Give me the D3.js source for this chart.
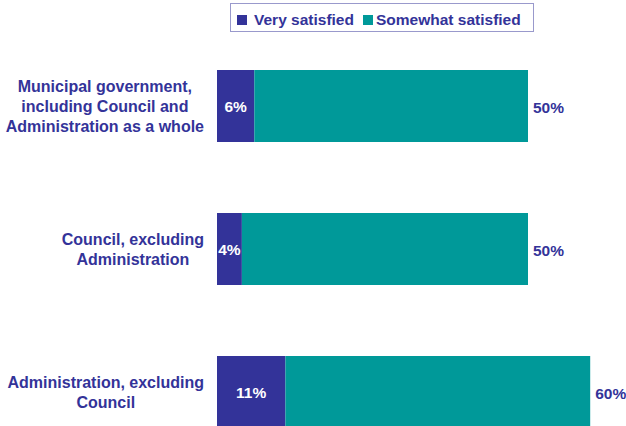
<!DOCTYPE html>
<html>
<head>
<meta charset="utf-8">
<script src="https://cdn.jsdelivr.net/npm/d3@7"></script>
<style>
  html, body { margin: 0; padding: 0; background: #fff; }
  svg { display: block; font-family: "Liberation Sans", Arial, sans-serif; font-weight: bold; }
</style>
</head>
<body>
<svg id="chart" width="626" height="426"></svg>
<script>
// Satisfaction by level of government (percent)
const categories = [
  ["Municipal government,", "including Council and", "Administration as a whole"],
  ["Council, excluding", "Administration"],
  ["Administration, excluding", "Council"]
];
const verySatisfied = [6, 4, 11];
const totalSatisfied = [50, 50, 60];
const somewhatSatisfied = totalSatisfied.map((t, i) => t - verySatisfied[i]);
const seriesNames = ["Very satisfied", "Somewhat satisfied"];
const colors = ["#333399", "#009999"];
const textColor = "#333399";

const svg = d3.select("#chart");

const x = d3.scaleLinear().domain([0, 100]).range([217, 839]);
const pad = 71 / 143;
const y = d3.scaleBand()
  .domain(d3.range(categories.length))
  .range([-1, 499])
  .paddingInner(pad)
  .paddingOuter(pad);
const bh = y.bandwidth();

const rows = categories.map((c, i) => ({
  i,
  lines: c,
  very: verySatisfied[i],
  somewhat: somewhatSatisfied[i],
  total: totalSatisfied[i]
}));

// stacked bars
const g = svg.selectAll("g.row").data(rows).join("g").attr("class", "row");

g.append("rect")
  .attr("x", x(0))
  .attr("y", d => y(d.i))
  .attr("width", d => x(d.very) - x(0))
  .attr("height", bh)
  .attr("fill", colors[0]);

g.append("rect")
  .attr("x", d => x(d.very))
  .attr("y", d => y(d.i))
  .attr("width", d => x(d.very + d.somewhat) - x(d.very))
  .attr("height", bh)
  .attr("fill", colors[1]);

// value labels
g.append("text")
  .attr("x", d => (x(0) + x(d.very)) / 2)
  .attr("y", d => y(d.i) + bh / 2 + 6)
  .attr("text-anchor", "middle")
  .attr("font-size", 15.5)
  .attr("fill", "#fff")
  .text(d => d.very + "%");

g.append("text")
  .attr("x", d => x(d.total) + 5)
  .attr("y", d => y(d.i) + bh / 2 + 7)
  .attr("font-size", 15.5)
  .attr("fill", textColor)
  .text(d => d.total + "%");

// category labels: block right-aligned, lines centred within block
g.each(function (d) {
  const grp = d3.select(this);
  const lh = 20;
  const n = d.lines.length;
  const cy = y(d.i) + bh / 2;
  const texts = grp.selectAll("text.cat").data(d.lines).join("text")
    .attr("class", "cat")
    .attr("font-size", 16)
    .attr("fill", textColor)
    .attr("text-anchor", "middle")
    .attr("y", (l, k) => cy + (k - (n - 1) / 2) * lh + 6)
    .text(l => l);
  let maxW = 0;
  texts.each(function () { maxW = Math.max(maxW, this.getComputedTextLength()); });
  texts.attr("x", 204 - maxW / 2);
});

// legend
const lg = svg.append("g");
lg.append("rect")
  .attr("x", 230.5).attr("y", 3.5)
  .attr("width", 303).attr("height", 28)
  .attr("fill", "#fff")
  .attr("stroke", "#9999cc")
  .attr("stroke-width", 1);
const legendItems = [
  { name: seriesNames[0], color: colors[0], sx: 237, tx: 254 },
  { name: seriesNames[1], color: colors[1], sx: 363, tx: 376 }
];
const li = lg.selectAll("g.item").data(legendItems).join("g").attr("class", "item");
li.append("rect")
  .attr("x", d => d.sx).attr("y", 15)
  .attr("width", 10).attr("height", 10)
  .attr("fill", d => d.color);
li.append("text")
  .attr("x", d => d.tx).attr("y", 25)
  .attr("font-size", 15.5)
  .attr("fill", textColor)
  .text(d => d.name);
</script>
</body>
</html>
